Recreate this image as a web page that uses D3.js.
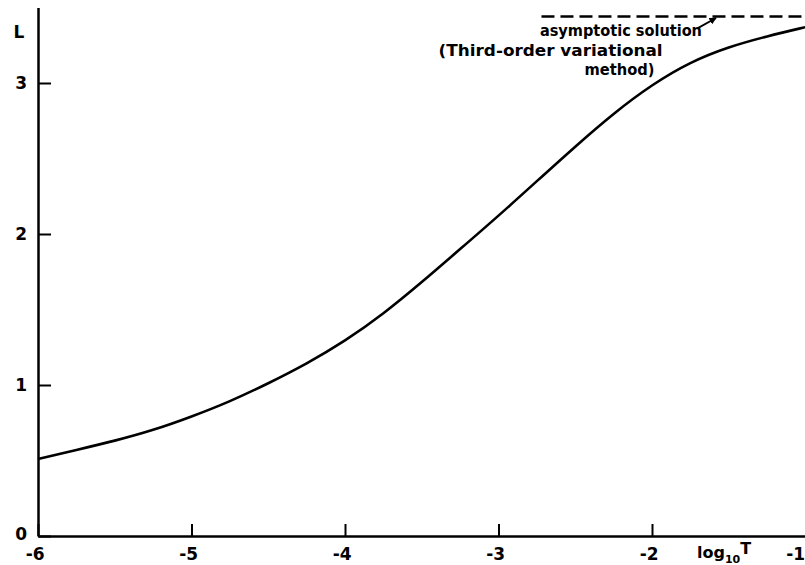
<!DOCTYPE html>
<html>
<head>
<meta charset="utf-8">
<script src="https://cdn.jsdelivr.net/npm/d3@7"></script>
<style>
  body { margin: 0; background: #fff; }
  svg { display: block; font-family: "DejaVu Sans", sans-serif; font-weight: bold; }
</style>
</head>
<body>
<svg id="chart" width="805" height="565"></svg>
<script>
// log10 T values and L
const logT = [-6, -5.75, -5.5, -5.25, -5, -4.75, -4.5, -4.25, -4, -3.75, -3.5, -3.25, -3, -2.75, -2.5, -2.25, -2, -1.75, -1.5, -1.25, -1];
const L    = [0.51, 0.57, 0.63, 0.70, 0.79, 0.89, 1.01, 1.14, 1.29, 1.47, 1.68, 1.90, 2.12, 2.35, 2.58, 2.80, 2.99, 3.14, 3.24, 3.31, 3.37];

const asymptote = 3.44;
const asymptoteFrom = -2.72;
const asymptoteTo = -1;

const xTicks = [-6, -5, -4, -3, -2, -1];
const yTicks = [0, 1, 2, 3];

const svg = d3.select('#chart');

const x = d3.scaleLinear().domain([-6, -1]).range([38, 805.5]);
const y = d3.scaleLinear().domain([0, 3.5]).range([536, 7.5]);

// Axes (ticks point inward)
const xAxis = svg.append('g')
    .attr('transform', `translate(0,${y(0)})`)
    .call(d3.axisBottom(x).tickValues(xTicks).tickSizeInner(-12).tickSizeOuter(0).tickPadding(12)
        .tickFormat(d => d3.format('d')(d).replace('\u2212', '-')));

const yAxis = svg.append('g')
    .attr('transform', `translate(${x(-6)},0)`)
    .call(d3.axisLeft(y).tickValues(yTicks).tickSizeInner(-13).tickSizeOuter(0).tickPadding(11)
        .tickFormat(d3.format('d')));

[xAxis, yAxis].forEach(g => {
    g.select('.domain').attr('stroke', '#000').attr('stroke-width', 2.5);
    g.selectAll('.tick line').attr('stroke', '#000').attr('stroke-width', 2);
    g.selectAll('.tick text')
        .attr('fill', '#000')
        .attr('font-size', '17px')
        .attr('font-family', '"DejaVu Sans", sans-serif')
        .attr('font-weight', 'bold');
});
xAxis.selectAll('.tick text').attr('dx', '-0.2em');
// last label runs into the right edge
xAxis.selectAll('.tick text').filter(d => d === -1).attr('text-anchor', 'end').attr('dx', '-0.05em');
yAxis.select('.tick text').attr('dy', '0.2em');

// Axis labels
svg.append('text')
    .attr('x', 19)
    .attr('y', y(3.34))
    .attr('dy', '0.35em')
    .attr('text-anchor', 'middle')
    .attr('font-size', '17px')
    .text('L');

const xl = svg.append('text')
    .attr('x', x(-1.707))
    .attr('y', 558)
    .attr('font-size', '16px');
xl.append('tspan').text('log');
xl.append('tspan').attr('font-size', '11px').attr('dy', 5).text('10');
xl.append('tspan').attr('dy', -9).text('T');

// Curve
const line = d3.line()
    .x(d => x(d[0]))
    .y(d => y(d[1]))
    .curve(d3.curveBasis);

svg.append('path')
    .datum(logT.map((t, i) => [t, L[i]]))
    .attr('d', line)
    .attr('fill', 'none')
    .attr('stroke', '#000')
    .attr('stroke-width', 2.6);

// Asymptote
svg.append('line')
    .attr('x1', x(asymptoteFrom))
    .attr('x2', x(asymptoteTo))
    .attr('y1', y(asymptote))
    .attr('y2', y(asymptote))
    .attr('stroke', '#000')
    .attr('stroke-width', 2.5)
    .attr('stroke-dasharray', '13,6');

// Annotation
const notes = [
    { text: 'asymptotic solution', t: -2.73, v: 3.311, len: 162 },
    { text: '(Third-order variational', t: -3.39, v: 3.179, len: 224 },
    { text: 'method)', t: -2.44, v: 3.053, len: 70 }
];
svg.selectAll('.note')
    .data(notes)
    .enter()
    .append('text')
    .attr('class', 'note')
    .attr('x', d => x(d.t))
    .attr('y', d => y(d.v))
    .attr('font-size', '16px')
    .attr('textLength', d => d.len)
    .attr('lengthAdjust', 'spacingAndGlyphs')
    .text(d => d.text);

svg.append('defs').append('marker')
    .attr('id', 'arrow')
    .attr('viewBox', '0 0 10 10')
    .attr('refX', 9).attr('refY', 5)
    .attr('markerWidth', 4).attr('markerHeight', 4)
    .attr('orient', 'auto')
    .append('path')
    .attr('d', 'M0,0L10,5L0,10z')
    .attr('fill', '#000');

svg.append('line')
    .attr('x1', x(-1.707)).attr('y1', y(3.36))
    .attr('x2', x(-1.583)).attr('y2', y(3.43))
    .attr('stroke', '#000')
    .attr('stroke-width', 1.8)
    .attr('marker-end', 'url(#arrow)');
</script>
</body>
</html>
